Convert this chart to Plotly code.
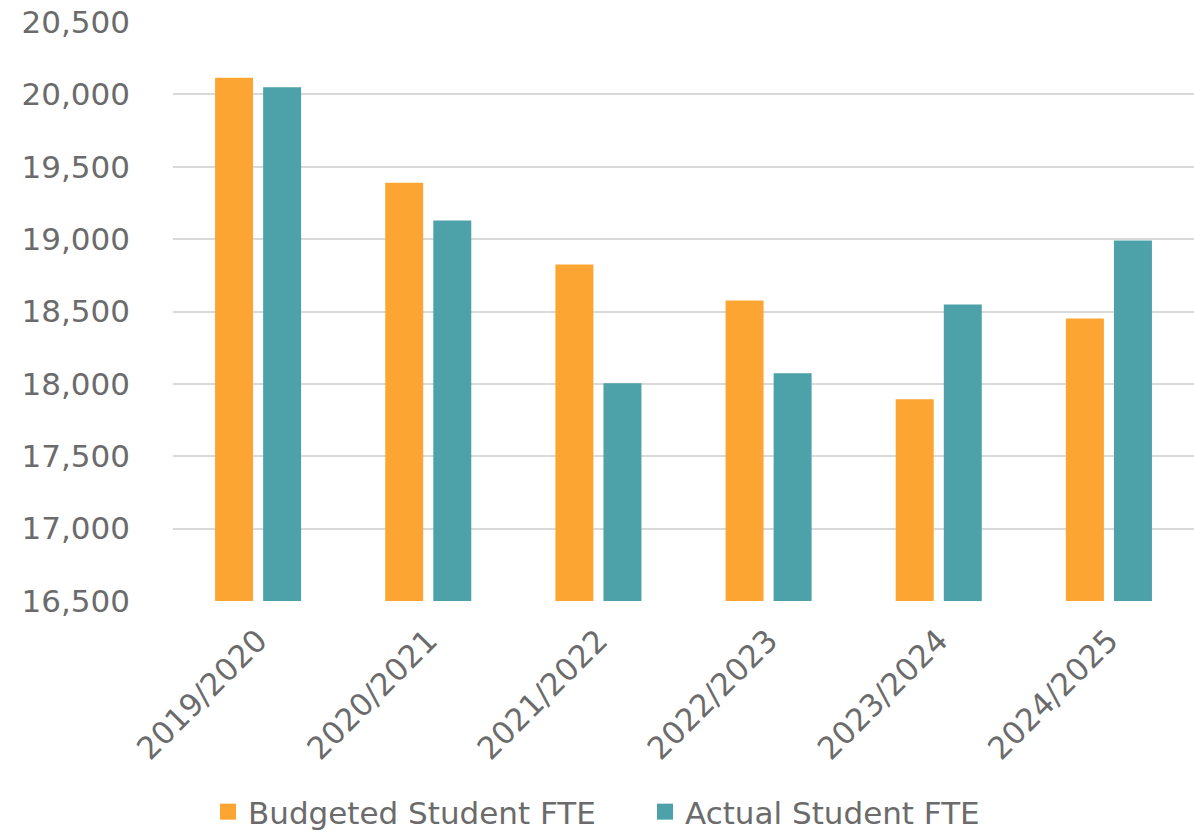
import plotly.graph_objects as go

# Student FTE by academic year
years = ["2019/2020", "2020/2021", "2021/2022", "2022/2023", "2023/2024", "2024/2025"]
budgeted_fte = [20115, 19390, 18825, 18576, 17894, 18452]
actual_fte = [20050, 19129, 18005, 18074, 18548, 18991]

series_names = ["Budgeted Student FTE", "Actual Student FTE"]
series_colors = ["#FDA533", "#4DA2A9"]

y_ticks = [16500, 17000, 17500, 18000, 18500, 19000, 19500, 20000, 20500]

FONT = "DejaVu Sans, Verdana, sans-serif"
TEXT_GRAY = "#6b6b6b"
GRID_GRAY = "#d9d9d9"

fig = go.Figure()
for name, values, color in zip(series_names, [budgeted_fte, actual_fte], series_colors):
    fig.add_trace(go.Bar(
        x=years, y=values, name=name, showlegend=False,
        marker=dict(color=color, line=dict(width=0)),
    ))

# legend keys drawn as larger square swatches
for name, color in zip(series_names, series_colors):
    fig.add_trace(go.Scatter(
        x=[years[0]], y=[None], name=name, mode="markers",
        marker=dict(symbol="square", size=18, color=color),
        hoverinfo="skip", showlegend=True,
    ))

fig.update_layout(
    width=1194, height=839,
    margin=dict(l=173, r=0, t=22, b=238),
    paper_bgcolor="white", plot_bgcolor="white",
    barmode="group", bargap=0.435, bargroupgap=0.21,
    font=dict(family=FONT, size=31, color=TEXT_GRAY),
    showlegend=True,
    legend=dict(
        orientation="h",
        xref="container", yref="container",
        x=208 / 1194, xanchor="left",
        y=-8 / 839, yanchor="bottom",
        font=dict(family=FONT, size=31, color=TEXT_GRAY),
        itemwidth=30,
        entrywidth=392, entrywidthmode="pixels",
        bgcolor="rgba(0,0,0,0)",
        tracegroupgap=0,
    ),
    xaxis=dict(
        type="category",
        tickangle=-45,
        showgrid=False, zeroline=False, showline=False,
        ticks="",
        ticklabelstandoff=14,
        tickfont=dict(family=FONT, size=31, color=TEXT_GRAY),
    ),
    yaxis=dict(
        range=[16500, 20500],
        tickvals=y_ticks,
        tickformat=",d",
        showgrid=True, gridcolor=GRID_GRAY, gridwidth=1.5,
        zeroline=False, showline=False,
        ticks="",
        ticklabelstandoff=42,
        tickfont=dict(family=FONT, size=31, color=TEXT_GRAY),
    ),
)

fig.write_html("out.html")
